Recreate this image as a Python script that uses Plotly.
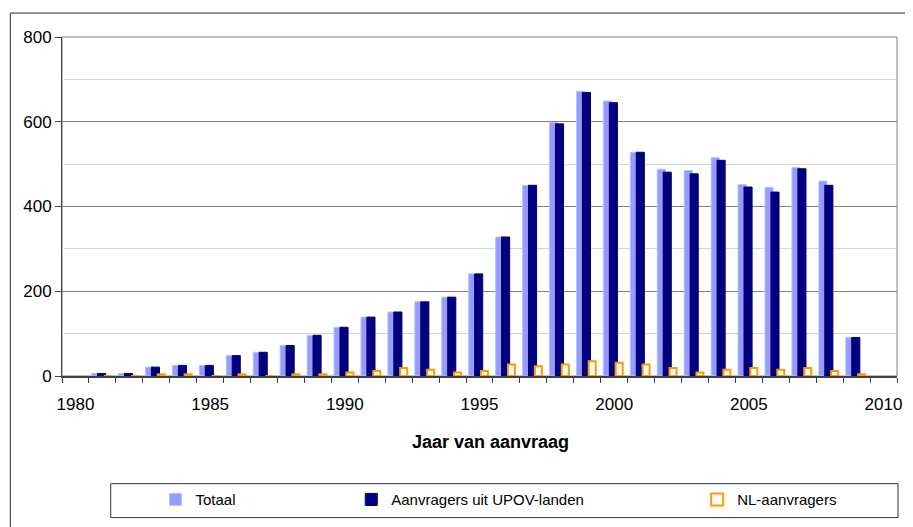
import plotly.graph_objects as go

# ---- data ----
years = list(range(1981, 2010))
totaal = [6, 6, 21, 25, 25, 48, 56, 72, 96, 115,
          139, 151, 175, 186, 241, 328, 450, 598, 672, 649,
          528, 488, 485, 515, 452, 445, 492, 460, 91]
upov = [6, 6, 21, 25, 25, 48, 56, 72, 96, 115,
        139, 151, 175, 186, 241, 328, 450, 595, 669, 645,
        528, 481, 477, 509, 446, 434, 489, 450, 91]
nl = [0, 0, 4, 4, 0, 4, 0, 4, 4, 8,
      12, 19, 15, 8, 12, 27, 23, 27, 35, 31,
      27, 19, 8, 15, 19, 15, 19, 12, 4]
label_years = [1980, 1985, 1990, 1995, 2000, 2005, 2010]
y_ticks = [0, 200, 400, 600, 800]

FONT = "Liberation Sans, Arial, sans-serif"

fig = go.Figure()
fig.add_trace(go.Bar(
    x=years, y=totaal, name="Totaal", offset=0.1, width=0.3,
    marker=dict(color="#9999ff", line=dict(color="#a8c8ff", width=1)),
    legend="legend"))
fig.add_trace(go.Bar(
    x=years, y=upov, name="Aanvragers uit UPOV-landen", offset=0.32, width=0.3,
    marker=dict(color="#000080", line=dict(color="#00006a", width=1)),
    legend="legend2"))
fig.add_trace(go.Bar(
    x=years, y=nl, name="NL-aanvragers", offset=0.555, width=0.26,
    marker=dict(color="white", line=dict(color="#ff9900", width=2)),
    legend="legend3"))

# page body has an 8px margin; coordinates below are screenshot pixels
def px_x(p):
    return (p - 62) / 840

def px_y(p):
    return (377 - p) / 340

leg_common = dict(orientation="h", yanchor="middle", xanchor="left",
                  y=px_y(501), bgcolor="rgba(0,0,0,0)",
                  font=dict(family=FONT, size=15, color="black"))

fig.update_layout(
    width=905, height=519,
    margin=dict(l=54, r=11, t=29, b=150),
    paper_bgcolor="white", plot_bgcolor="white",
    barmode="overlay",
    font=dict(family=FONT, size=17, color="black"),
    showlegend=True,
    legend=dict(x=px_x(156), **leg_common),
    legend2=dict(x=px_x(353), **leg_common),
    legend3=dict(x=px_x(701), **leg_common),
    xaxis=dict(range=[1980, 2011], tickmode="array",
               tickvals=[y + 0.5 for y in label_years],
               ticktext=[str(y) for y in label_years],
               ticks="outside", ticklen=12, tickcolor="rgba(0,0,0,0)",
               tickfont=dict(family=FONT, size=17),
               minor=dict(tick0=1980, dtick=1, ticks="outside", ticklen=5,
                          tickcolor="#404040", showgrid=False),
               showline=True, linecolor="#404040",
               linewidth=2, showgrid=False, zeroline=False),
    yaxis=dict(range=[0, 800], tickmode="array", tickvals=y_ticks,
               ticks="outside", ticklen=6, tickcolor="#404040",
               showline=True, linecolor="#404040", linewidth=1,
               gridcolor="#808080", gridwidth=1, zeroline=False,
               tickfont=dict(family=FONT, size=17),
               minor=dict(dtick=100, tick0=0, showgrid=True,
                          gridcolor="#d4d4d4", ticks="")),
    annotations=[dict(text="<b>Jaar van aanvraag</b>", x=px_x(493), y=px_y(443),
                      xref="paper", yref="paper", showarrow=False,
                      xanchor="center", yanchor="middle",
                      font=dict(family=FONT, size=18, color="black"))],
    shapes=[
        dict(type="line", xref="paper", x0=0, x1=1, yref="y", y0=400, y1=400,
             line=dict(color="black", width=1), layer="below"),
        dict(type="rect", xref="paper", yref="paper", x0=0, x1=1, y0=0, y1=1,
             line=dict(color="#808080", width=1), layer="below"),
        dict(type="rect", xref="paper", yref="paper",
             x0=px_x(111), x1=px_x(903), y0=px_y(519), y1=px_y(485),
             line=dict(color="#333333", width=1)),
        dict(type="rect", xref="paper", yref="paper",
             x0=px_x(10), x1=px_x(930), y0=px_y(545), y1=px_y(13),
             line=dict(color="#222222", width=1)),
    ],
)

fig.write_html("out.html")
